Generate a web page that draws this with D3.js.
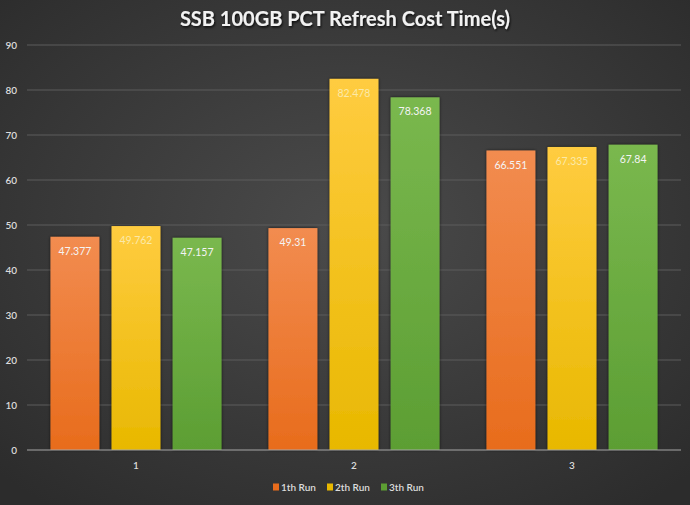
<!DOCTYPE html>
<html>
<head>
<meta charset="utf-8">
<script src="https://cdn.jsdelivr.net/npm/d3@7"></script>
<style>
  html, body { margin: 0; padding: 0; background: #333; }
  svg { display: block; }
</style>
</head>
<body>
<div id="chart"></div>
<script>
// chart data
var categories = ["1", "2", "3"];
var seriesNames = ["1th Run", "2th Run", "3th Run"];
var run1 = [47.377, 49.31, 66.551];
var run2 = [49.762, 82.478, 67.335];
var run3 = [47.157, 78.368, 67.84];
var yTicks = [0, 10, 20, 30, 40, 50, 60, 70, 80, 90];

var w = 690, h = 505;
var margin = {top: 45, right: 9, bottom: 55, left: 27};

var svg = d3.select("#chart").append("svg")
  .attr("width", w)
  .attr("height", h);

var defs = svg.append("defs");

// background: dark radial gradient
var bg = defs.append("radialGradient").attr("id", "bg")
  .attr("cx", "50%").attr("cy", "45%").attr("r", "70%");
bg.append("stop").attr("offset", "0%").attr("stop-color", "#4b4b4b");
bg.append("stop").attr("offset", "100%").attr("stop-color", "#2c2c2c");

var barColours = [
  ["#f28c50", "#e86c1c"],
  ["#ffcc40", "#e8b800"],
  ["#7ab84e", "#5c9e33"]
];
barColours.forEach(function(c, i) {
  var g = defs.append("linearGradient").attr("id", "bar" + i)
    .attr("x1", 0).attr("y1", 0).attr("x2", 0).attr("y2", 1);
  g.append("stop").attr("offset", "0%").attr("stop-color", c[0]);
  g.append("stop").attr("offset", "100%").attr("stop-color", c[1]);
});

var shadow = defs.append("filter").attr("id", "shadow")
  .attr("x", "-20%").attr("y", "-20%").attr("width", "140%").attr("height", "140%");
shadow.append("feDropShadow").attr("dx", 0).attr("dy", 0)
  .attr("stdDeviation", 1.5).attr("flood-color", "#000").attr("flood-opacity", 0.7);

var tshadow = defs.append("filter").attr("id", "tshadow");
tshadow.append("feDropShadow").attr("dx", 1).attr("dy", 1.5)
  .attr("stdDeviation", 1).attr("flood-color", "#000").attr("flood-opacity", 0.8);

svg.append("rect").attr("width", w).attr("height", h).attr("fill", "url(#bg)");

var x0 = d3.scaleBand()
  .domain(categories)
  .range([margin.left, w - margin.right])
  .paddingInner(0)
  .paddingOuter(0);

var x1 = d3.scaleBand()
  .domain(seriesNames)
  .range([23.5, x0.bandwidth() - 23.5])
  .paddingInner(0.2);

var y = d3.scaleLinear()
  .domain([0, 90])
  .range([h - margin.bottom, margin.top]);

// gridlines
svg.append("g").selectAll("line")
  .data(yTicks.slice(1))
  .enter().append("line")
  .attr("x1", margin.left).attr("x2", w - margin.right)
  .attr("y1", function(d) { return y(d); })
  .attr("y2", function(d) { return y(d); })
  .attr("stroke", "#5c5c5c")
  .attr("stroke-width", 1);

// y axis labels
var yAxis = d3.axisLeft(y).tickValues(yTicks).tickSize(0).tickPadding(8);
var yg = svg.append("g")
  .attr("transform", "translate(" + (margin.left - 2) + ",0)")
  .call(yAxis);
yg.select(".domain").remove();
yg.selectAll("text")
  .attr("fill", "#dcdcdc")
  .style("font-family", "Lato, 'Open Sans', sans-serif")
  .style("font-weight", "600")
  .style("font-size", "10px");

var series = [run1, run2, run3];
var rows = categories.map(function(c, i) {
  return {cat: c, values: seriesNames.map(function(s, j) {
    return {name: s, idx: j, value: series[j][i]};
  })};
});

var groups = svg.append("g").selectAll("g")
  .data(rows)
  .enter().append("g")
  .attr("transform", function(d) { return "translate(" + x0(d.cat) + ",0)"; });

groups.selectAll("rect")
  .data(function(d) { return d.values; })
  .enter().append("rect")
  .attr("x", function(d) { return x1(d.name); })
  .attr("y", function(d) { return y(d.value); })
  .attr("width", x1.bandwidth())
  .attr("height", function(d) { return y(0) - y(d.value); })
  .attr("fill", function(d) { return "url(#bar" + d.idx + ")"; })
  .attr("filter", "url(#shadow)");

groups.selectAll("text")
  .data(function(d) { return d.values; })
  .enter().append("text")
  .attr("x", function(d) { return x1(d.name) + x1.bandwidth() / 2; })
  .attr("y", function(d) { return y(d.value) + 18; })
  .attr("text-anchor", "middle")
  .attr("fill", function(d) { return d.idx === 1 ? "#fbe9a8" : "#f4f4f4"; })
  .style("font-family", "Lato, 'Open Sans', sans-serif")
  .style("font-size", "10.5px")
  .text(function(d) { return d.value; });

// x axis line
svg.append("line")
  .attr("x1", margin.left).attr("x2", w - margin.right)
  .attr("y1", y(0)).attr("y2", y(0))
  .attr("stroke", "#a6a6a6").attr("stroke-width", 1.2);

var xAxis = d3.axisBottom(x0).tickSize(0).tickPadding(12);
var xg = svg.append("g")
  .attr("transform", "translate(0," + y(0) + ")")
  .call(xAxis);
xg.select(".domain").remove();
xg.selectAll("text")
  .attr("fill", "#dcdcdc")
  .style("font-family", "Lato, 'Open Sans', sans-serif")
  .style("font-weight", "600")
  .style("font-size", "10px");

// title
svg.append("text")
  .attr("x", w / 2).attr("y", 26)
  .attr("text-anchor", "middle")
  .attr("fill", "#f2f2f2")
  .attr("filter", "url(#tshadow)")
  .style("font-family", "Lato, 'Open Sans', sans-serif")
  .style("font-weight", "bold")
  .style("font-size", "20px")
  .text("SSB 100GB PCT Refresh Cost Time(s)");

// legend
var legendItemW = 54;
var legend = svg.append("g")
  .attr("transform", "translate(" + (w / 2 - legendItemW * seriesNames.length / 2 + 9) + ",488)");
var li = legend.selectAll("g")
  .data(seriesNames)
  .enter().append("g")
  .attr("transform", function(d, i) { return "translate(" + (i * legendItemW) + ",0)"; });
li.append("rect")
  .attr("x", 0).attr("y", -4.5)
  .attr("width", 6).attr("height", 7)
  .attr("fill", function(d, i) { return barColours[i][1]; });
li.append("text")
  .attr("x", 8).attr("y", 3)
  .attr("fill", "#dcdcdc")
  .style("font-family", "Lato, 'Open Sans', sans-serif")
  .style("font-weight", "600")
  .style("font-size", "10px")
  .text(function(d) { return d; });
</script>
</body>
</html>
